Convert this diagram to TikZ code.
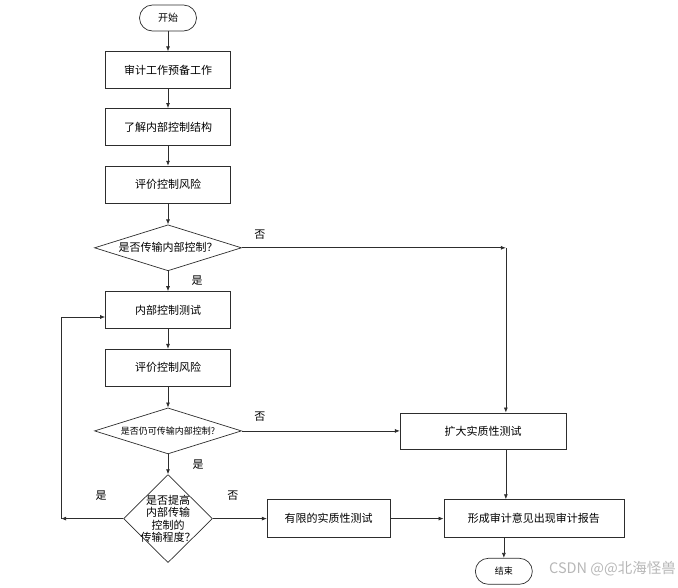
\documentclass[tikz,border=0pt]{standalone}
\usepackage{fontspec}
\setmainfont{Noto Sans CJK SC}
\usetikzlibrary{positioning,calc,shapes.geometric,arrows.meta}
\definecolor{lgrey}{RGB}{45,45,45}
\definecolor{wmark}{RGB}{170,170,170}

\begin{document}
\begin{tikzpicture}[x=1pt,y=-1pt,
    >={Latex[length=5pt,width=4pt]},
    proc/.style={draw=lgrey, line width=0.7pt, rectangle, minimum width=125pt, minimum height=37pt, inner sep=0pt, font=\fontsize{11}{13}\selectfont},
    term/.style={draw=lgrey, line width=0.7pt, rectangle, rounded corners=13pt, minimum width=57pt, minimum height=26pt, inner sep=0pt, font=\fontsize{10}{12}\selectfont},
    decide/.style={draw=lgrey, line width=0.7pt, diamond, aspect=3.2, minimum width=147pt, minimum height=46pt, inner sep=0pt, font=\fontsize{11}{13}\selectfont},
    lbl/.style={font=\fontsize{11}{13}\selectfont},
    flow/.style={draw=lgrey, line width=0.7pt, ->},
]
    \useasboundingbox (0,0) rectangle (678,587);

    \node[term] (start) at (168,18) {开始};
    \node[proc, below=20pt of start] (prep) {审计工作预备工作};
    \node[proc, below=19pt of prep] (learn) {了解内部控制结构};
    \node[proc, below=20pt of learn] (risk1) {评价控制风险};
    \node[decide, below=21pt of risk1] (d1) {是否传输内部控制？};
    \node[proc, below=20pt of d1] (test) {内部控制测试};
    \node[proc, below=20pt of test] (risk2) {评价控制风险};
    \node[decide, below=21pt of risk2, font=\fontsize{9}{11}\selectfont] (d2) {是否仍可传输内部控制?};
    \node[decide, aspect=1, minimum width=89pt, minimum height=88pt, below=20pt of d2,
        label={[align=center, font=\fontsize{11}{12.5}\selectfont]center:是否提高\\内部传输\\控制的\\传输程度？}] (d3) {};

    \coordinate[right=264pt of d1.east] (turn);
    \coordinate[left=62pt of d3.west] (loop);
    \node[proc, right=158pt of d2, minimum width=166pt, minimum height=36pt] (expand) {扩大实质性测试};
    \node[proc, right=54pt of d3, minimum width=123pt, minimum height=38pt] (limited) {有限的实质性测试};
    \node[proc, right=53pt of limited, minimum width=180pt, minimum height=38pt] (report) {形成审计意见出现审计报告};
    \node[term, font=\fontsize{9}{11}\selectfont, anchor=north] (finish) at ($(report.south -| turn)+(-2,20)$) {结束};

    \draw[flow] (start) -- (prep);
    \draw[flow] (prep) -- (learn);
    \draw[flow] (learn) -- (risk1);
    \draw[flow] (risk1) -- (d1);
    \draw[flow] (d1) -- (test);
    \draw[flow] (test) -- (risk2);
    \draw[flow] (risk2) -- (d2);
    \draw[flow] (d2) -- (d3);

    \draw[flow] (d1) -- (turn);
    \draw[flow] (turn) -- (turn |- expand.north);
    \draw[flow] (d2) -- (expand);
    \draw[flow] (expand.south -| turn) -- (report.north -| turn);
    \draw[flow] (d3) -- (limited);
    \draw[flow] (limited) -- (report);
    \draw[flow] (report.south -| finish) -- (finish);
    \draw[flow] (d3) -- (loop);
    \draw[flow] (loop) |- ([yshift=-7pt]test.west);

    \node[lbl] (no1) at ($(d1.east)+(18,-13)$) {否};
    \node[lbl] (yes1) at ($(d1.south)+(29,9)$) {是};
    \node[lbl] (no2) at ($(d2.east)+(18,-14)$) {否};
    \node[lbl] (yes2) at ($(d2.south)+(30,10)$) {是};
    \node[lbl] (yes3) at ($(d3.west)+(-22,-23)$) {是};
    \node[lbl] (no3) at ($(d3.east)+(20,-23)$) {否};

    \node[font=\fontsize{14.5}{15}\selectfont, text=wmark, opacity=0.85, anchor=east, inner sep=0pt] (mark) at (676,569) {CSDN @@北海怪兽};
\end{tikzpicture}
\end{document}
